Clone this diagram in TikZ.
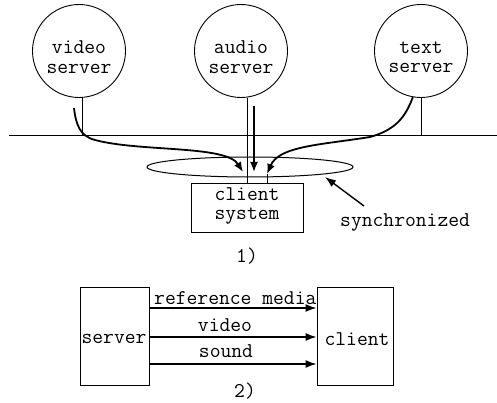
\documentclass[tikz,border=0pt]{standalone}
\usepackage{fontspec}
\usetikzlibrary{arrows.meta,shapes.geometric}
\begin{document}
\begin{tikzpicture}[x=1pt,y=-1pt,
  txt/.style={font=\fontsize{21}{19.5}\selectfont\ttfamily, align=center, inner sep=0pt},
  srv/.style={circle, draw, line width=0.9pt, minimum size=93pt, inner sep=0pt},
  box/.style={draw, line width=0.9pt, inner sep=0pt},
  thin/.style={line width=0.9pt},
  flow/.style={line width=1.8pt, -{Latex[length=10pt,width=8pt]}},
  harrow/.style={line width=1.4pt, -{Latex[length=11pt,width=8pt]}}]
\useasboundingbox[fill=white] (0,0) rectangle (497,403);
% part 1
\node[srv] (video) at (79,51) {};
\node[srv] (audio) at (241,51) {};
\node[srv] (text) at (421,51) {};
\node[txt] (videot) at (79,57) {video\\server};
\node[txt] (audiot) at (241,57) {audio\\server};
\node[txt] (textt) at (421,57) {text\\server};
\coordinate (busL) at (9,135);
\coordinate (busR) at (497,135);
\draw[thin] (busL) -- (busR);
\draw[thin] (video.south -| 82,0) -- (82,135);
\draw[thin] (text.south) -- (421,135);
\node[ellipse, draw, line width=1pt, minimum width=206pt, minimum height=20pt, inner sep=0pt] (sync) at (250,167) {};
\node[box, minimum width=112pt, minimum height=49pt] (client) at (247,207.5) {};
\node[txt] (clientt) at (247,206) {client\\system};
\draw[thin] (audio.south -| 247,0) -- (client.north -| 247,0);
\coordinate (vtip) at (243,172);
\coordinate (atip) at (254,172);
\coordinate (ttip) at (267,174);
\draw[thin] (ttip) -- (client.north -| ttip);
\draw[flow] (74,108) .. controls (76,125) and (80,136) .. (95,140) .. controls (140,152) and (226,145) .. (vtip);
\draw[flow] (254,106) -- (atip);
\draw[flow] (text.-100) .. controls (405,118) and (395,130) .. (370,137) .. controls (320,145) and (279,146) .. (ttip);
\node[txt, anchor=west] (synct) at (340,222) {synchronized};
\coordinate (syncpt) at (325,177);
\draw[harrow] (364,206) -- (syncpt);
\node[txt] (lab1) at (247,256) {1)};
% part 2
\node[box, minimum width=69pt, minimum height=98pt] (server) at (114.5,336) {};
\node[box, minimum width=76pt, minimum height=98pt] (client2) at (355,336) {};
\node[txt] (servert) at (114,339) {server};
\node[txt] (client2t) at (357,339) {client};
\draw[harrow] (server.east |- 0,308) -- (client2.west |- 0,308);
\draw[harrow] (server.east |- 0,337) -- (client2.west |- 0,337);
\draw[harrow] (server.east |- 0,364) -- (client2.west |- 0,364);
\node[txt, anchor=west] (refl) at (154,298) {reference media};
\node[txt] (vidl) at (225,325) {video};
\node[txt] (sndl) at (226,351) {sound};
\node[txt] (lab2) at (245,391) {2)};
\end{tikzpicture}
\end{document}
